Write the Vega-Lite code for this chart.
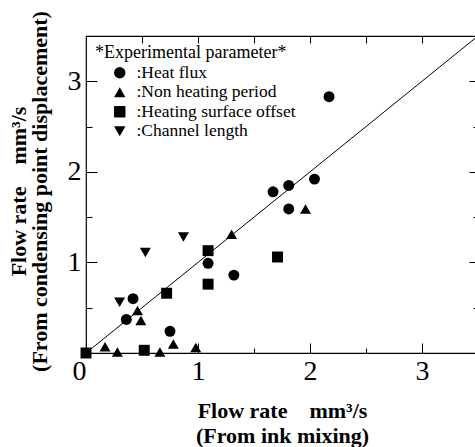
{
  "$schema": "https://vega.github.io/schema/vega-lite/v6.json",
  "width": 392,
  "height": 317,
  "autosize": "none",
  "padding": {"left": 86, "top": 36, "right": 0, "bottom": 94},
  "background": "white",
  "config": {
    "font": "Liberation Serif",
    "view": {"stroke": "black", "strokeWidth": 1.2},
    "axis": {
      "domain": false,
      "grid": false,
      "tickColor": "black",
      "tickWidth": 1,
      "labelColor": "black",
      "titleColor": "black",
      "labelFont": "Liberation Serif",
      "labelFontSize": 28,
      "titleFont": "Liberation Serif",
      "titleFontWeight": "bold",
      "titleFontSize": 22,
      "format": "d"
    },
    "legend": {
      "orient": "none",
      "legendX": 9,
      "legendY": 8,
      "padding": 0,
      "titleFont": "Liberation Serif",
      "titleFontWeight": "normal",
      "titleFontSize": 18,
      "titleColor": "black",
      "titlePadding": 2,
      "titleLimit": 0,
      "labelLimit": 0,
      "labelFont": "Liberation Serif",
      "labelFontSize": 17.5,
      "labelColor": "black",
      "symbolOffset": 16,
      "symbolSize": 130,
      "symbolFillColor": "black",
      "symbolStrokeColor": "black",
      "symbolStrokeWidth": 0,
      "rowPadding": 0.5,
      "labelOffset": 8
    }
  },
  "datasets": {
    "diag": [{"x": 0, "y": 0}, {"x": 3.5, "y": 3.5}],
    "pts": [
      {"x": 2.17, "y": 2.83, "param": "Heat flux"},
      {"x": 2.04, "y": 1.92, "param": "Heat flux"},
      {"x": 1.81, "y": 1.85, "param": "Heat flux"},
      {"x": 1.67, "y": 1.78, "param": "Heat flux"},
      {"x": 1.81, "y": 1.59, "param": "Heat flux"},
      {"x": 1.09, "y": 0.99, "param": "Heat flux"},
      {"x": 1.32, "y": 0.86, "param": "Heat flux"},
      {"x": 0.42, "y": 0.6, "param": "Heat flux"},
      {"x": 0.36, "y": 0.37, "param": "Heat flux"},
      {"x": 0.75, "y": 0.24, "param": "Heat flux"},
      {"x": 1.96, "y": 1.59, "param": "Non heating period"},
      {"x": 1.3, "y": 1.31, "param": "Non heating period"},
      {"x": 0.46, "y": 0.47, "param": "Non heating period"},
      {"x": 0.49, "y": 0.36, "param": "Non heating period"},
      {"x": 0.17, "y": 0.07, "param": "Non heating period"},
      {"x": 0.28, "y": 0.01, "param": "Non heating period"},
      {"x": 0.66, "y": 0.01, "param": "Non heating period"},
      {"x": 0.78, "y": 0.1, "param": "Non heating period"},
      {"x": 0.98, "y": 0.06, "param": "Non heating period"},
      {"x": 0.0, "y": 0.0, "param": "Heating surface offset"},
      {"x": 0.52, "y": 0.03, "param": "Heating surface offset"},
      {"x": 0.72, "y": 0.66, "param": "Heating surface offset"},
      {"x": 1.09, "y": 1.13, "param": "Heating surface offset"},
      {"x": 1.09, "y": 0.76, "param": "Heating surface offset"},
      {"x": 1.71, "y": 1.06, "param": "Heating surface offset"},
      {"x": 0.3, "y": 0.56, "param": "Channel length"},
      {"x": 0.53, "y": 1.11, "param": "Channel length"},
      {"x": 0.87, "y": 1.28, "param": "Channel length"}
    ]
  },
  "layer": [
    {
      "data": {"name": "diag"},
      "mark": {"type": "line", "color": "black", "strokeWidth": 1, "clip": true},
      "encoding": {
        "x": {
          "field": "x", "type": "quantitative",
          "scale": {"domain": [0, 3.5], "nice": false, "zero": false},
          "axis": {
            "orient": "bottom",
            "values": [0, 0.5, 1, 1.5, 2, 2.5, 3],
            "labelExpr": "datum.value % 1 == 0 ? datum.label : ''",
            "tickSize": {"condition": {"test": "datum.value % 1 == 0", "value": -10}, "value": -5},
            "labelPadding": 14,
            "labelAlign": {"condition": {"test": "datum.value == 0", "value": "right"}, "value": "center"},
            "title": ["Flow rate\u00a0\u00a0\u00a0\u00a0mm³/s", "(From ink mixing)"],
            "titleLineHeight": 25,
            "titleBaseline": "alphabetic",
            "titleY": 64
          }
        },
        "y": {
          "field": "y", "type": "quantitative",
          "scale": {"domain": [0, 3.5], "nice": false, "zero": false},
          "axis": {
            "orient": "left",
            "values": [0.5, 1, 1.5, 2, 2.5, 3],
            "labelExpr": "datum.value % 1 == 0 ? datum.label : ''",
            "tickSize": {"condition": {"test": "datum.value % 1 == 0", "value": -11}, "value": -6},
            "labelPadding": 16,
            "title": ["Flow rate\u00a0\u00a0\u00a0\u00a0mm³/s", "(From condensing point displacement)"],
            "titleLineHeight": 21,
            "titleAngle": -90,
            "titleBaseline": "middle",
            "titleX": -68,
            "titleY": 155
          }
        }
      }
    },
    {
      "data": {"name": "pts"},
      "mark": {"type": "point", "filled": true, "color": "black", "opacity": 1, "size": 120, "clip": false},
      "encoding": {
        "x": {
          "field": "x", "type": "quantitative",
          "scale": {"domain": [0, 3.5], "nice": false, "zero": false},
          "axis": {
            "orient": "top",
            "values": [0.5, 1, 1.5, 2, 2.5, 3],
            "labels": false,
            "tickSize": -7,
            "title": null
          }
        },
        "y": {
          "field": "y", "type": "quantitative",
          "scale": {"domain": [0, 3.5], "nice": false, "zero": false},
          "axis": {
            "orient": "right",
            "values": [0.5, 1, 1.5, 2, 2.5, 3],
            "labels": false,
            "tickSize": {"condition": {"test": "datum.value % 1 == 0", "value": -9}, "value": -5},
            "title": null
          }
        },
        "shape": {
          "field": "param", "type": "nominal",
          "scale": {
            "domain": ["Heat flux", "Non heating period", "Heating surface offset", "Channel length"],
            "range": ["circle", "triangle-up", "square", "triangle-down"]
          },
          "legend": {
            "title": "*Experimental parameter*",
            "labelExpr": "':' + datum.label"
          }
        }
      }
    }
  ],
  "resolve": {"axis": {"x": "independent", "y": "independent"}}
}
